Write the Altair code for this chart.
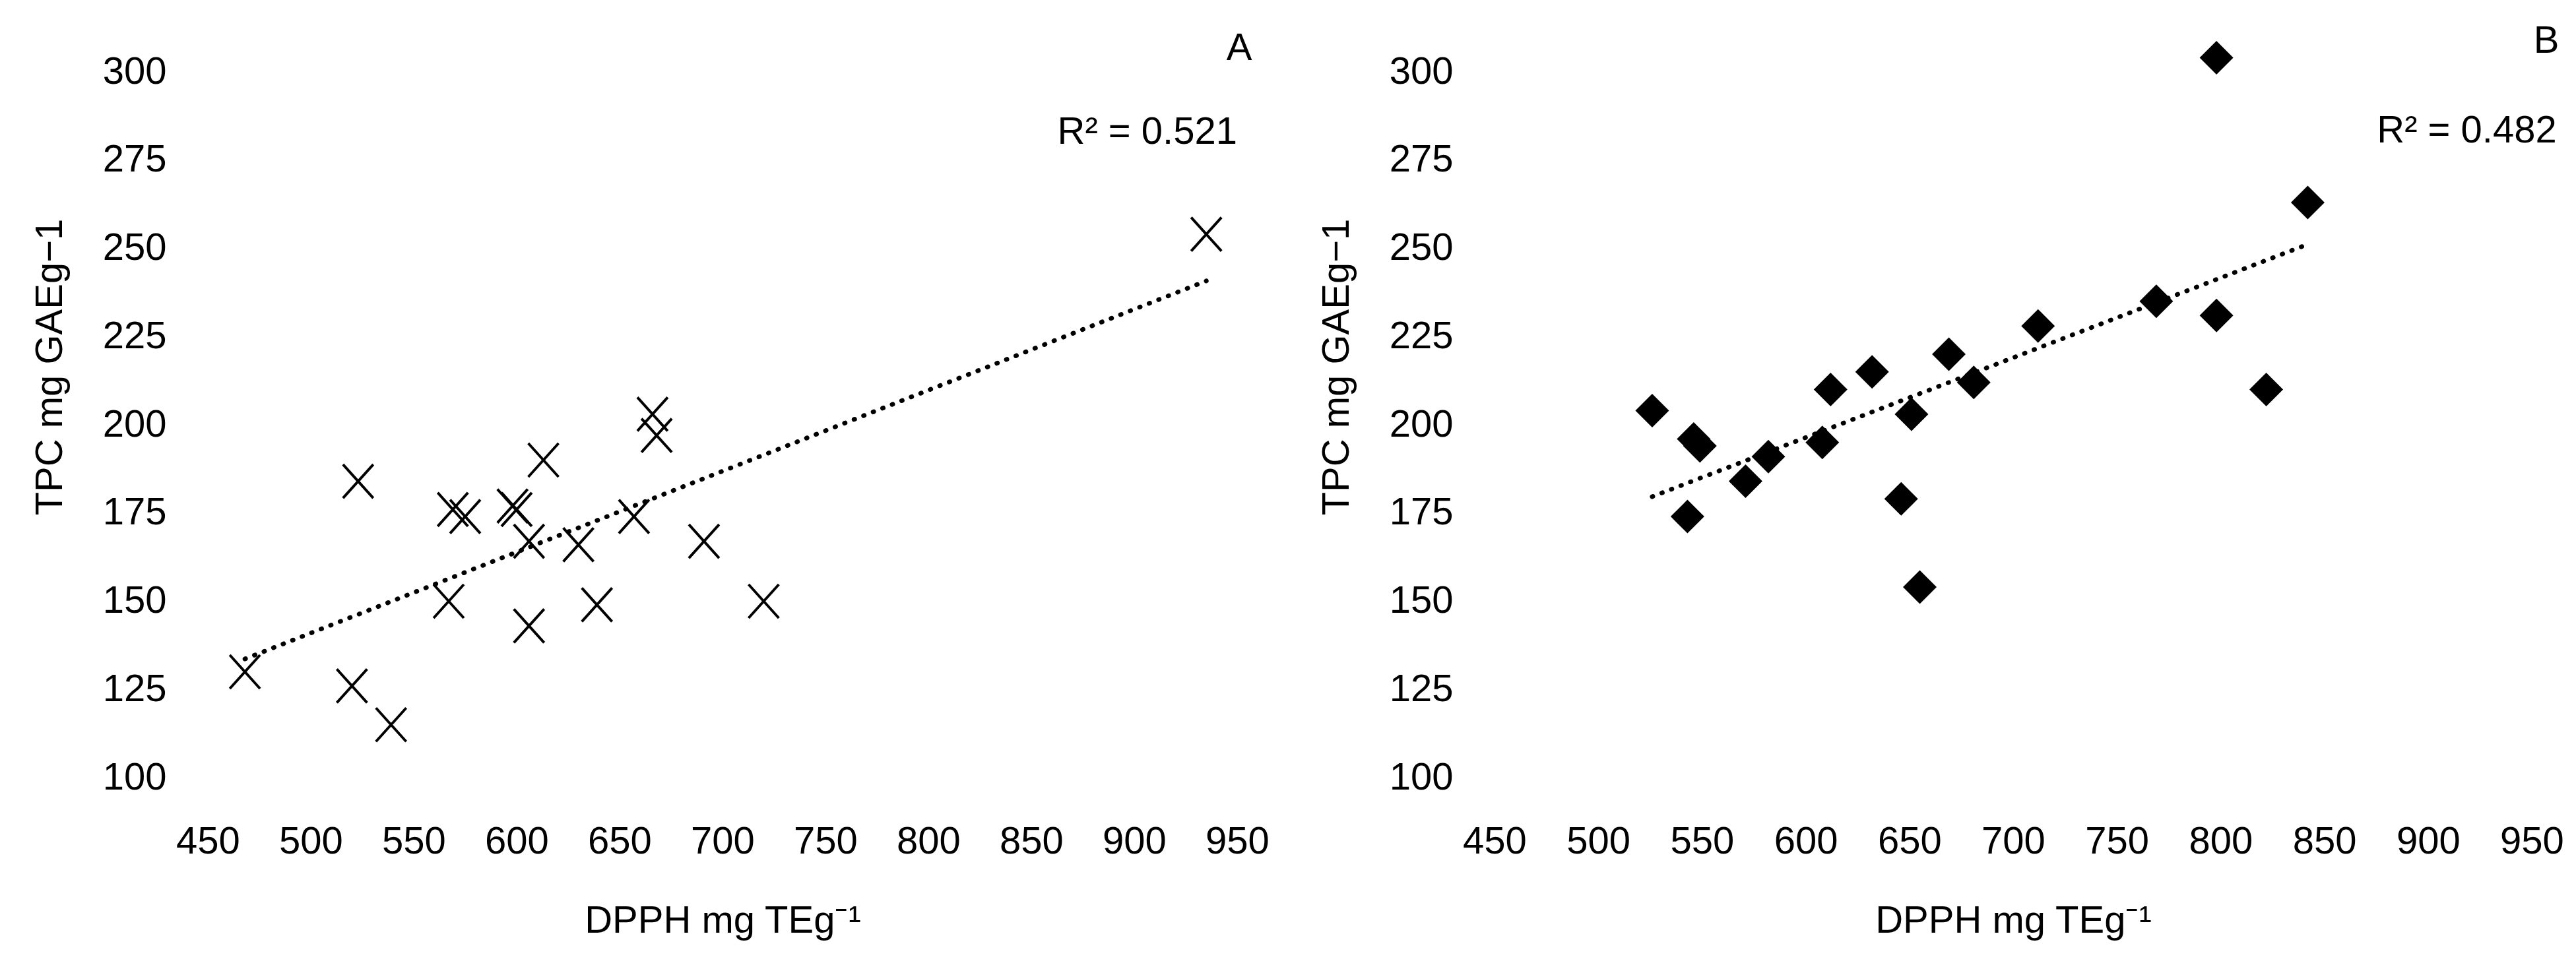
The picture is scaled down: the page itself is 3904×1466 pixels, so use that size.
import altair as alt
import pandas as pd

FONT = "Liberation Sans"
FS = 58

x_ticks = [450, 500, 550, 600, 650, 700, 750, 800, 850, 900, 950]
y_ticks = [100, 125, 150, 175, 200, 225, 250, 275, 300]

# Panel A (crosses)
a_dpph = [935, 468, 520, 539, 523, 567, 569, 575, 598, 600, 613, 606, 606, 630, 639, 657, 666, 668, 691, 720]
a_tpc = [254, 130, 126, 115, 184, 150, 176, 174, 177, 176, 190, 167, 143, 166, 149, 174, 203, 197, 167, 150]

# Panel B (diamonds)
b_dpph = [526, 543, 546, 549, 571, 582, 608, 612, 632, 646, 651, 655, 669, 681, 712, 769, 798, 798, 822, 842]
b_tpc = [204, 174, 196, 194, 184, 191, 195, 210, 215, 179, 203, 154, 220, 212, 228, 235, 304, 231, 210, 263]

panel_letters = ["A", "B"]
r2_labels = ["R\u00b2 = 0.521", "R\u00b2 = 0.482"]
letter_x = [951, 957]
letter_y = [306.5, 308.6]
r2_x = [950, 962]
r2_y = [282.8, 283.2]

X_TITLE = "DPPH mg TEg\u207b\u00b9"
Y_TITLE = "TPC mg GAEg\u22121"

CROSS = "M-0.9,-1L0.9,1M-0.9,1L0.9,-1"
DIAMOND = "M0,-1L1,0L0,1L-1,0Z"


def panel(dpph, tpc, idx, width, height):
    df = pd.DataFrame({"dpph": dpph, "tpc": tpc})
    xs = alt.X(
        "dpph:Q",
        scale=alt.Scale(domain=[450, 950], nice=False, zero=False),
        axis=alt.Axis(
            values=x_ticks, title=X_TITLE, grid=False, domain=False, ticks=False,
            tickSize=0, labelPadding=68, titlePadding=62, labelFont=FONT,
            labelFontSize=FS, titleFont=FONT, titleFontSize=FS,
            titleFontWeight="normal", labelColor="black", titleColor="black",
            labelFlush=False, format="d",
        ),
    )
    ys = alt.Y(
        "tpc:Q",
        scale=alt.Scale(domain=[100, 300], nice=False, zero=False),
        axis=alt.Axis(
            values=y_ticks, title=Y_TITLE, grid=False, domain=False, ticks=False,
            tickSize=0, labelPadding=63, titlePadding=50, labelFont=FONT,
            labelFontSize=FS, titleFont=FONT, titleFontSize=FS,
            titleFontWeight="normal", labelColor="black", titleColor="black",
            labelFlush=False, titleY=447, format="d",
        ),
    )
    base = alt.Chart(df)
    if idx == 0:
        pts = base.mark_point(shape=CROSS, size=2600, filled=False, stroke="black",
                              strokeWidth=4, opacity=1)
    else:
        pts = base.mark_point(shape=DIAMOND, size=2600, filled=True, fill="black",
                              strokeWidth=0, opacity=1)
    pts = pts.encode(x=xs, y=ys)
    trend = base.transform_regression("dpph", "tpc").mark_line(
        color="black", strokeWidth=7, strokeCap="round", strokeDash=[1, 14.5]
    ).encode(x=xs, y=ys)
    let_df = pd.DataFrame({"dpph": [letter_x[idx]], "tpc": [letter_y[idx]], "t": [panel_letters[idx]]})
    r2_df = pd.DataFrame({"dpph": [r2_x[idx]], "tpc": [r2_y[idx]], "t": [r2_labels[idx]]})
    letter = alt.Chart(let_df).mark_text(
        font=FONT, fontSize=FS, color="black", align="center", baseline="middle"
    ).encode(x=xs, y=ys, text="t:N")
    r2 = alt.Chart(r2_df).mark_text(
        font=FONT, fontSize=FS, color="black", align="right", baseline="middle"
    ).encode(x=xs, y=ys, text="t:N")
    return alt.layer(trend, pts, letter, r2).properties(width=width, height=height)


chart_a = panel(a_dpph, a_tpc, 0, 1560, 1070)
chart_b = panel(b_dpph, b_tpc, 1, 1572, 1070)

chart = alt.hconcat(chart_a, chart_b, spacing=390, bounds="flush").properties(
    padding={"left": 39, "top": 25, "right": 5, "bottom": 5},
    background="white",
).configure_view(stroke=None)

chart.save("out.html", embed_options={"renderer": "svg", "actions": False})
